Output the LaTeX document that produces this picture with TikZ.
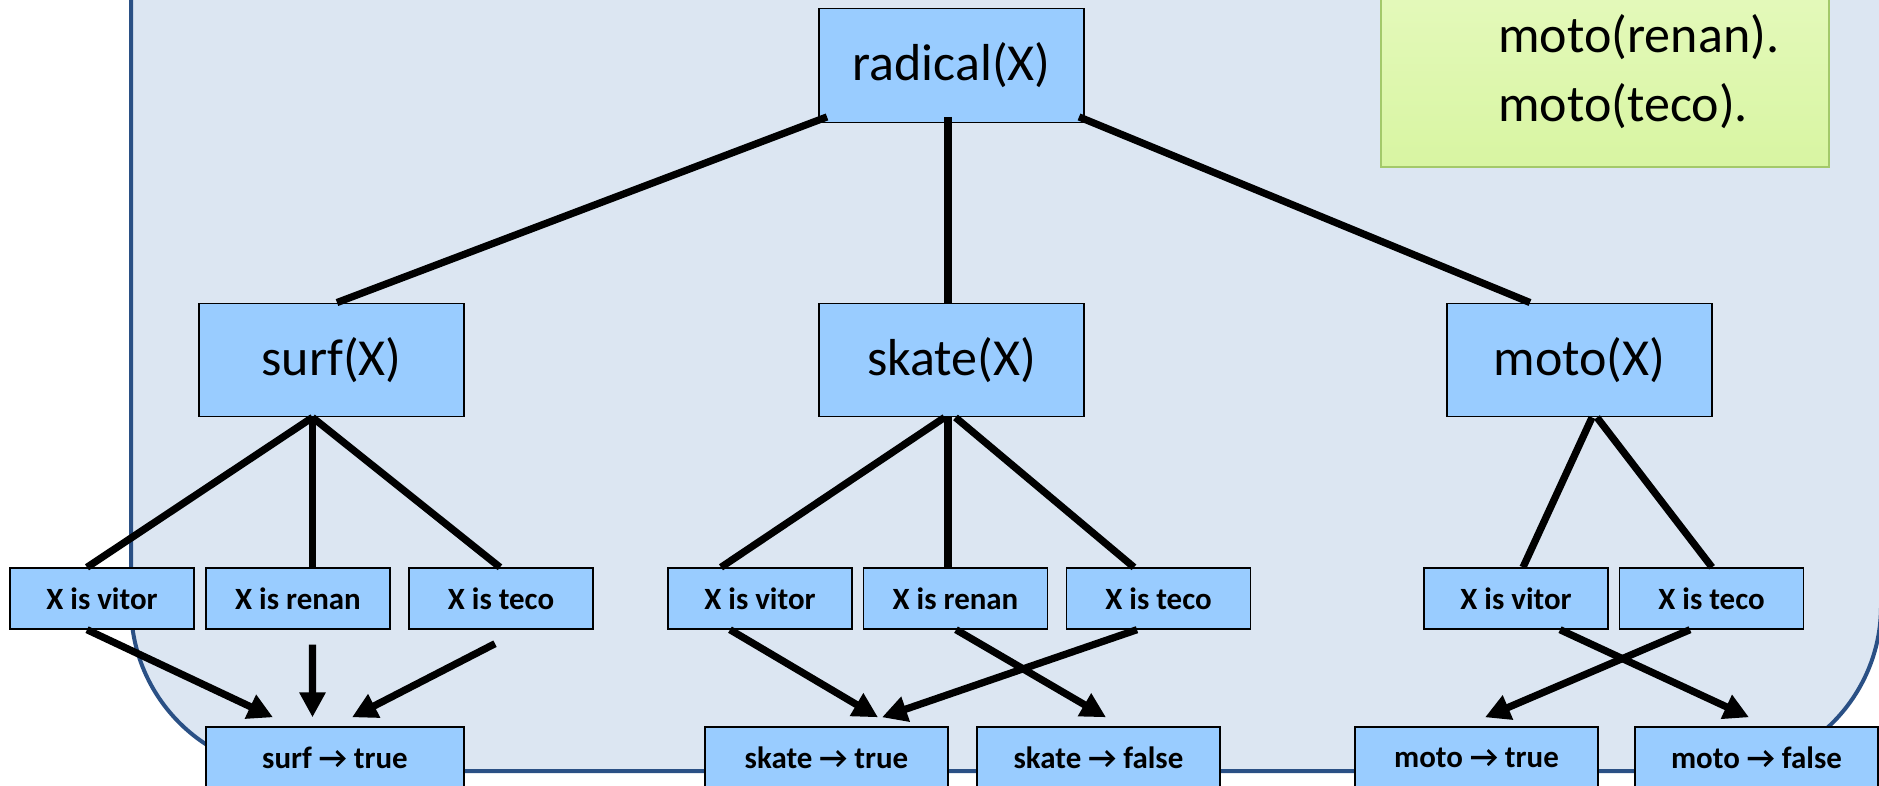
\documentclass[tikz,border=0pt]{standalone}
\usepackage{fontspec}
\setmainfont{Carlito}
\usetikzlibrary{arrows.meta,calc}
\definecolor{bgfill}{HTML}{DCE6F2}
\definecolor{bgline}{HTML}{2A5085}
\definecolor{boxfill}{HTML}{99CCFF}
\definecolor{factfillA}{HTML}{E6FABF}
\definecolor{factfillB}{HTML}{D8F5A2}
\definecolor{factline}{HTML}{A3C96A}
\newcommand{\rarr}{→}
\begin{document}
\begin{tikzpicture}[x=0.02cm,y=-0.02cm,
  bigbox/.style={draw=black, line width=0.8pt, fill=boxfill, minimum width=5.3cm, minimum height=2.27cm, inner sep=0pt, font=\fontsize{29.6}{34}\selectfont},
  smallbox/.style={draw=black, line width=0.8pt, fill=boxfill, minimum width=3.68cm, minimum height=1.22cm, inner sep=0pt, font=\bfseries\fontsize{17.6}{20}\selectfont},
  resbox/.style={smallbox, minimum width=4.86cm},
  factbox/.style={draw=factline, line width=0.04cm, top color=factfillA, bottom color=factfillB, minimum width=8.96cm, minimum height=4.14cm, inner sep=0pt},
  link/.style={line width=0.145cm},
  arr/.style={line width=0.145cm, -{Triangle[length=0.5cm,width=0.5cm]}},
  fact/.style={anchor=base west, inner sep=0pt, font=\fontsize{29.6}{34}\selectfont}
]
\useasboundingbox (0,0) rectangle (1879,786);
\clip (0,0) rectangle (1879,786);
% background panel
\path[fill=bgfill, draw=bgline, line width=0.08cm, rounded corners=3.3cm] (131,-400) rectangle (1881,771);
% facts box
\node[factbox] (facts) at (1605,63.5) {};
\node[fact] (f1) at (1498,53) {moto(renan).};
\node[fact] (f2) at (1498,122) {moto(teco).};
% level 0/1
\node[bigbox] (radical) at (951.5,65.5) {radical(X)};
\node[bigbox] (surf) at (331.5,360) {surf(X)};
\node[bigbox] (skate) at (951.5,360) {skate(X)};
\node[bigbox] (moto) at (1579.5,360) {moto(X)};
% level 2
\node[smallbox] (s1) at (102,598.5) {X is vitor};
\node[smallbox] (s2) at (298,598.5) {X is renan};
\node[smallbox] (s3) at (501,598.5) {X is teco};
\node[smallbox] (k1) at (760,598.5) {X is vitor};
\node[smallbox] (k2) at (955.5,598.5) {X is renan};
\node[smallbox] (k3) at (1158.5,598.5) {X is teco};
\node[smallbox] (m1) at (1516,598.5) {X is vitor};
\node[smallbox] (m2) at (1711.5,598.5) {X is teco};
% results
\node[resbox, minimum width=5.16cm] (st) at (335,757.5) {surf \rarr{} true};
\node[resbox] (kt) at (826.5,757.5) {skate \rarr{} true};
\node[resbox] (kf) at (1098.5,757.5) {skate \rarr{} false};
\node[resbox] (mt) at (1476.5,757.5) {moto \rarr{} true};
\node[resbox] (mf) at (1756.5,757.5) {moto \rarr{} false};
% links from radical
\draw[link] ($(radical.south)+(-124.5,-6)$) -- ($(surf.north)+(5.5,0)$);
\draw[link] ($(radical.south)+(-3.5,-6)$) -- ($(skate.north)+(-3.5,0)$);
\draw[link] ($(radical.south)+(127.5,-6)$) -- ($(moto.north)+(-49.5,0)$);
% surf children
\draw[link] ($(surf.south)+(-19,0)$) -- ($(s1.north)+(-15,0)$);
\draw[link] ($(surf.south)+(-19,0)$) -- ($(s2.north)+(14.5,0)$);
\draw[link] ($(surf.south)+(-19,0)$) -- ($(s3.north)+(-1,0)$);
% skate children
\draw[link] ($(skate.south)+(-7,0)$) -- ($(k1.north)+(-39,0)$);
\draw[link] ($(skate.south)+(-3.5,0)$) -- ($(k2.north)+(-7.5,0)$);
\draw[link] ($(skate.south)+(4,0)$) -- ($(k3.north)+(-24.5,0)$);
% moto children
\draw[link] ($(moto.south)+(12.5,0)$) -- ($(m1.north)+(7,0)$);
\draw[link] ($(moto.south)+(17.5,0)$) -- ($(m2.north)+(0.5,0)$);
% arrows to results
\draw[arr] ($(s1.south)+(-15,0)$) -- ($(st.north)+(-62,-9)$);
\draw[arr] ($(s2.south)+(14.5,15)$) -- ($(st.north)+(-22.5,-9)$);
\draw[arr] ($(s3.south)+(-6,14)$) -- ($(st.north)+(17,-9)$);
\draw[arr] ($(k1.south)+(-30,0)$) -- ($(kt.north)+(51.5,-9)$);
\draw[arr] ($(k2.south)+(0.5,0)$) -- ($(kf.north)+(7.5,-9)$);
\draw[arr] ($(k3.south)+(-21.5,0)$) -- ($(kt.north)+(55.5,-9)$);
\draw[arr] ($(m1.south)+(44,0)$) -- ($(mf.north)+(-7.5,-9)$);
\draw[arr] ($(m2.south)+(-21.5,0)$) -- ($(mt.north)+(8.5,-9)$);
\end{tikzpicture}
\end{document}
